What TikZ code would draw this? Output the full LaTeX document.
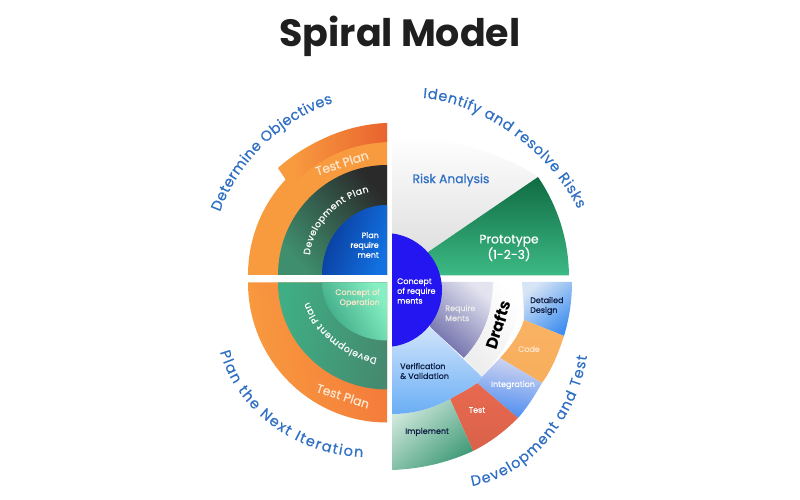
\documentclass[tikz,border=0pt]{standalone}
\usepackage{fontspec}
\setmainfont{Poppins}
\newfontfamily\pmed{Poppins}[FakeBold=0.35]
\newfontfamily\psemi{Poppins}[FakeBold=0.8]
\usetikzlibrary{decorations.text}
\definecolor{lblue}{HTML}{2F6FC4}
\definecolor{orangeA}{HTML}{F89B3F}
\definecolor{orangeB}{HTML}{E9632E}
\definecolor{orangeC}{HTML}{F4793A}
\definecolor{cream}{HTML}{FDE6CC}
\definecolor{navy}{HTML}{0F1F45}
\definecolor{royal}{HTML}{2416F0}
\definecolor{darkA}{HTML}{3F8F6F}
\definecolor{darkB}{HTML}{2A2A2A}
\definecolor{blueA}{HTML}{0A3A9A}
\definecolor{blueB}{HTML}{1272E2}
\definecolor{devA}{HTML}{3FAE85}
\definecolor{devB}{HTML}{458A70}
\definecolor{conA}{HTML}{3AA583}
\definecolor{conB}{HTML}{86F0C4}
\definecolor{protoA}{HTML}{0F6B42}
\definecolor{protoB}{HTML}{3DBA85}
\definecolor{reqA}{HTML}{6A6AA8}
\definecolor{reqB}{HTML}{E4E4F0}
\definecolor{ddA}{HTML}{D7E4F5}
\definecolor{ddB}{HTML}{3F8FF0}
\definecolor{codeA}{HTML}{F9B264}
\definecolor{codeB}{HTML}{F8AE5B}
\definecolor{intA}{HTML}{D4D6F0}
\definecolor{intB}{HTML}{4A8CF0}
\definecolor{testA}{HTML}{E8694F}
\definecolor{testB}{HTML}{D9624A}
\definecolor{impA}{HTML}{CDE7DA}
\definecolor{impB}{HTML}{3F9A78}
\definecolor{verA}{HTML}{D0E4FB}
\definecolor{verB}{HTML}{6AAEF5}
\newcommand{\lblfont}{\fontsize{14.5}{16}\pmed\color{lblue}}
\newcommand{\devfont}{\fontsize{9.3}{10}\pmed\color{white}}
\tikzset{
  x=1pt,y=1pt,
  small/.style={font=\fontsize{8}{9.8}\psemi,inner sep=0pt},
  mid/.style={font=\fontsize{8}{10}\pmed,inner sep=0pt},
  big/.style={font=\fontsize{12.3}{15.5}\psemi,inner sep=0pt},
  curved/.style={decorate,decoration={text along path,text align={fit to path},text={#1}}}
}
\begin{document}
\begin{tikzpicture}
\useasboundingbox (-392,-223) rectangle (408,277);
\fill[white] (-392,-223) rectangle (408,277);
\node[font=\fontsize{38}{42}\selectfont\bfseries,text=black!88,inner sep=0pt] (title) at (8,241) {Spiral Model};

% upper left quadrant
\fill[orangeA] (-144,2) arc[start angle=180,end angle=137,radius=140] -- (-114,109)
  .. controls (-85,135) and (-45,152) .. (-5,154) -- (-5,2) -- cycle;
\shade[left color=orangeA,right color=orangeB] (-100,118)
  .. controls (-75,138) and (-45,152) .. (-5,154) -- (-5,135)
  .. controls (-40,133) and (-70,122) .. (-100,92) -- cycle;
\shade[top color=darkB,bottom color=darkA,shading angle=-50]
  (-5,2) -- (-114,2) arc[start angle=180,end angle=90,x radius=109,y radius=110] -- cycle;
\shade[left color=blueA,right color=blueB,shading angle=70]
  (-5,2) -- (-70,2) arc[start angle=180,end angle=90,x radius=65,y radius=70] -- cycle;

% lower left quadrant
\shade[left color=orangeA,right color=orangeC,shading angle=100]
  (-5,-5.5) -- (-144,-5.5) arc[start angle=180,end angle=270,x radius=139,y radius=140] -- cycle;
\shade[left color=devA,right color=devB,shading angle=80]
  (-5,-5.5) -- (-114,-5.5) arc[start angle=180,end angle=270,x radius=109,y radius=107] -- cycle;
\shade[left color=conA,right color=conB,shading angle=120]
  (-5,-5.5) -- (-70,-5.5) arc[start angle=180,end angle=270,x radius=65,y radius=58] -- cycle;

% upper right quadrant
\shade[top color=white,bottom color=black!15]
  (0,1) -- (146,100) .. controls (110,125) and (50,140) .. (0,142) -- cycle;
\shade[top color=protoA,bottom color=protoB]
  (36,25) -- (146,100) arc[start angle=34.4,end angle=0.5,radius=177] -- (40,1.5) -- cycle;

% lower right quadrant
\shade[top color=reqB,bottom color=reqA,shading angle=-40]
  (40,-5) -- (101,-5) .. controls (101,-35) and (92,-60) .. (72,-81) -- (38,-50) -- cycle;
\shade[top color=white,bottom color=black!7,shading angle=-50]
  (101,-5) -- (130,-5) .. controls (131,-30) and (124,-62) .. (90,-100) -- (72,-81)
  .. controls (92,-60) and (101,-35) .. (101,-5) -- cycle;
\shade[top color=ddA,bottom color=ddB,shading angle=40]
  (130,-5) -- (180,-5) .. controls (180,-25) and (177,-42) .. (172,-59) -- (132,-43)
  .. controls (132,-30) and (131,-18) .. (130,-5) -- cycle;
\shade[top color=codeA,bottom color=codeB]
  (132,-43) -- (172,-59) .. controls (166,-77) and (160,-92) .. (150,-106) -- (108,-81)
  .. controls (120,-68) and (128,-56) .. (132,-43) -- cycle;
\shade[top color=intA,bottom color=intB,shading angle=-10]
  (90,-100) -- (108,-81) -- (150,-106) .. controls (143,-118) and (135,-131) .. (126,-141) -- (85,-106) -- cycle;
\shade[top color=testA,bottom color=testB]
  (85,-106) -- (126,-141) .. controls (112,-155) and (97,-166) .. (81,-174) -- (58,-122)
  .. controls (68,-116) and (77,-112) .. (85,-106) -- cycle;
\shade[top color=impA,bottom color=impB,shading angle=40]
  (0,-137) .. controls (20,-137) and (40,-132) .. (58,-122) -- (81,-174)
  .. controls (55,-186) and (28,-192) .. (0,-193) -- cycle;
\shade[top color=verA,bottom color=verB]
  (0,-60) -- (38,-50) -- (90,-100) -- (85,-106) .. controls (77,-112) and (68,-116) .. (58,-122)
  .. controls (40,-132) and (20,-137) .. (0,-137) -- cycle;

% central disc
\begin{scope}
\clip (0,-80) rectangle (60,50);
\fill[royal] (-7,-13) circle[radius=57];
\end{scope}

% curved labels
\path[curved={|\lblfont|Determine Objectives}]
  (159.3:184) arc[start angle=159.3,end angle=108.7,radius=184];
\path[curved={|\lblfont|Identify and resolve Risks}]
  (31,179) .. controls (85,175) and (155,130) .. (186,68);
\path[curved={|\lblfont|Plan the Next Iteration}]
  (-172,-75) .. controls (-155,-135) and (-95,-178) .. (-29,-180);
\path[curved={|\lblfont|Development and Test}]
  (80,-209) .. controls (135,-200) and (185,-145) .. (195,-79);
\path[curved={|\devfont|Development Plan}]
  (-82,22) .. controls (-80,50) and (-55,78) .. (-23,85);
\path[curved={|\devfont|Development Plan}]
  (-15,-81) .. controls (-45,-75) and (-72,-55) .. (-83,-25);

% straight labels
\node[big,text=cream,rotate=18] (tp1) at (-50,114) {Test Plan};
\node[big,text=cream,rotate=-18] (tp2) at (-49,-119) {Test Plan};
\node[small,text=white,align=right,anchor=east] (pr) at (-13,32) {Plan\\require\\ment};
\node[mid,text=cream,align=right,anchor=east] (co) at (-12,-21) {Concept of\\Operation};
\node[big,text=lblue] (ra) at (59,97) {Risk Analysis};
\node[big,text=white,align=center] (pt) at (117,29) {Prototype\\(1-2-3)};
\node[small,text=white,align=left,anchor=west] (cr) at (5,-14) {Concept\\of require\\ments};
\node[mid,text=black!8,align=left,anchor=west] (rm) at (53,-36) {Require\\Ments};
\node[font=\fontsize{16}{17}\selectfont\bfseries,text=black,inner sep=0pt,rotate=72] (df) at (106,-48) {Drafts};
\node[small,text=navy,align=left,anchor=west] (dd) at (138,-29) {Detailed\\Design};
\node[mid,text=cream] (cd) at (137,-72) {Code};
\node[mid,text=white] (ig) at (121,-108) {Integration};
\node[mid,text=white] (ts) at (85,-133) {Test};
\node[small,text=navy,align=left,anchor=west] (im) at (13,-155) {Implement};
\node[small,text=navy,align=left,anchor=west] (vv) at (8,-94) {Verification\\\& Validation};
\end{tikzpicture}
\end{document}
